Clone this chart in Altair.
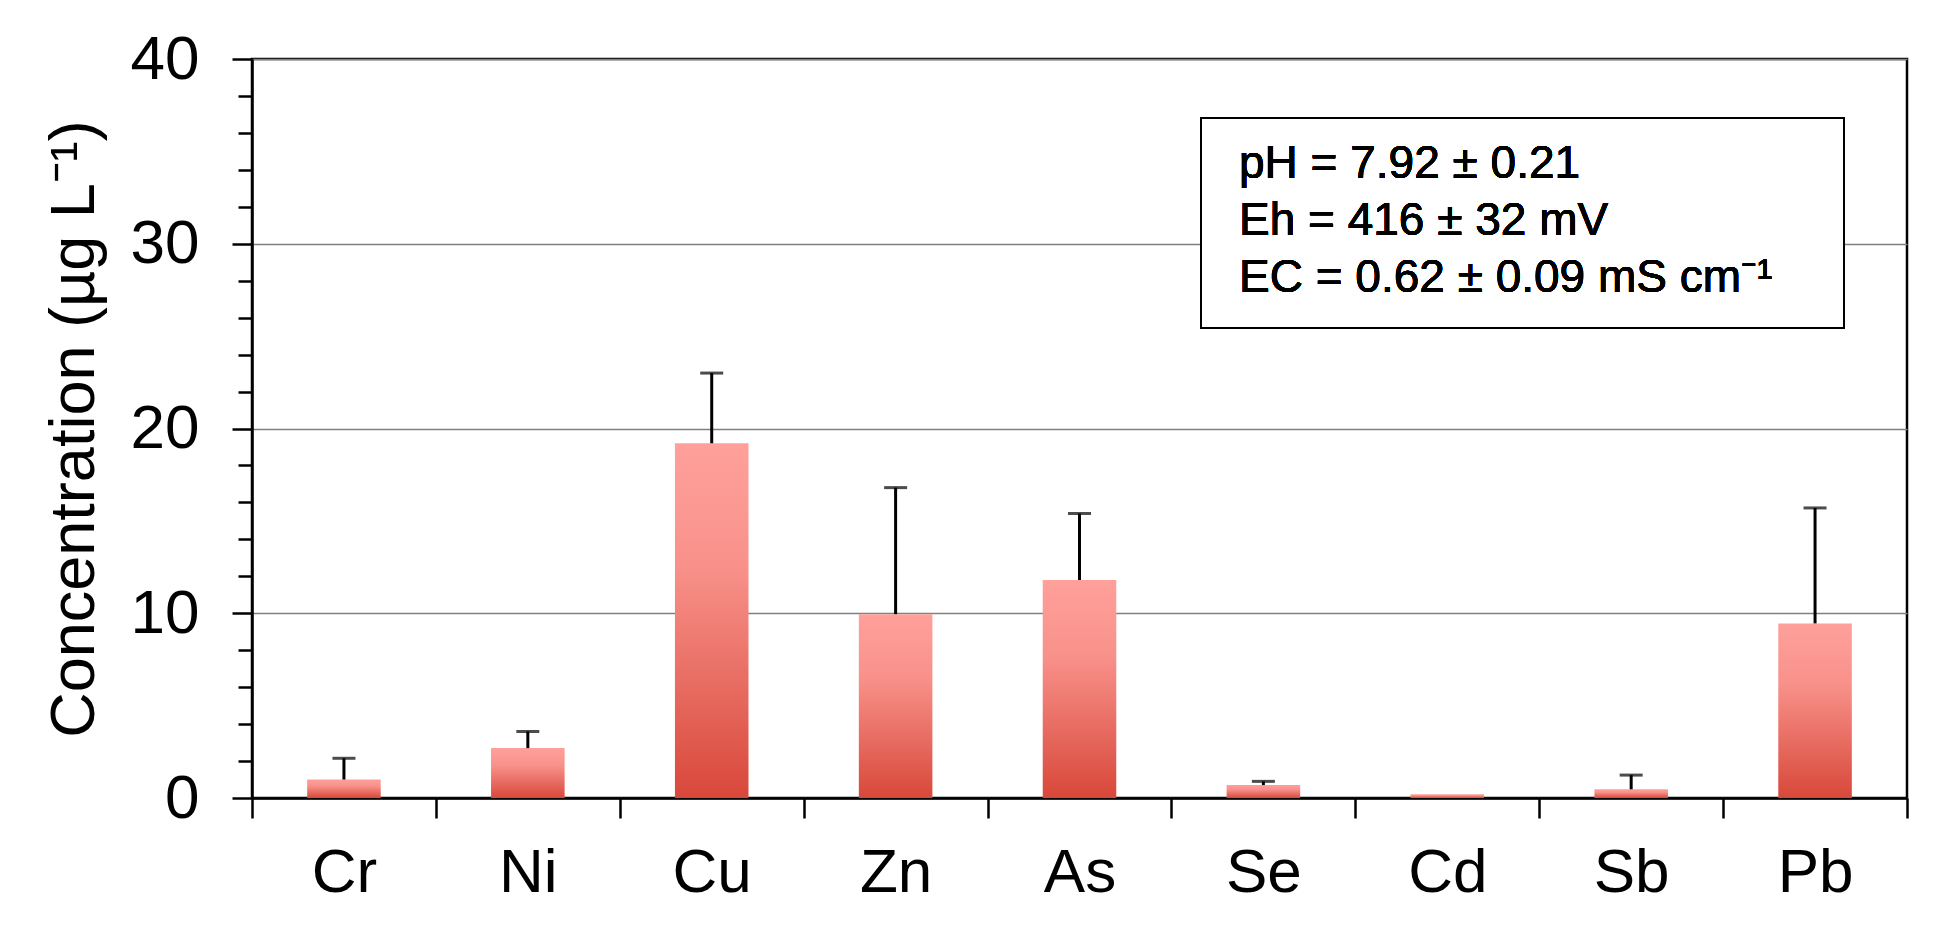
import altair as alt
import pandas as pd

# ---- data ----
elements = ["Cr", "Ni", "Cu", "Zn", "As", "Se", "Cd", "Sb", "Pb"]
means = [1.0, 2.7, 19.2, 9.95, 11.8, 0.7, 0.2, 0.47, 9.45]
errors = [1.15, 0.9, 3.8, 6.85, 3.6, 0.2, 0.0, 0.77, 6.25]
y_ticks = list(range(0, 41, 2))
info_lines = ["pH = 7.92 ± 0.21", "Eh = 416 ± 32 mV", "EC = 0.62 ± 0.09 mS cm⁻¹"]
y_title = "Concentration (µg L⁻¹)"

df = pd.DataFrame({"element": elements, "mean": means, "err": errors})
df["top"] = df["mean"] + df["err"]

W, H = 1655, 739
FONT = "Liberation Sans"
MAJOR = "datum.value % 10 === 0"

yscale = alt.Scale(domain=[0, 40], nice=False, zero=True)

x_enc = alt.X(
    "element:N",
    sort=elements,
    scale=alt.Scale(paddingInner=0, paddingOuter=0),
    axis=alt.Axis(
        title=None,
        tickBand="extent",
        labelAngle=0,
        labelFont=FONT,
        labelFontSize=62,
        labelColor="black",
        labelPadding=24,
        tickSize=20,
        tickWidth=2.5,
        tickColor="black",
        domainColor="black",
        domainWidth=2.5,
        grid=False,
    ),
)

y_axis = alt.Axis(
    values=y_ticks,
    tickCount=50,
    title=y_title,
    titleFont=FONT,
    titleFontSize=63,
    titleFontWeight="normal",
    titleColor="black",
    titlePadding=24,
    labelFont=FONT,
    labelFontSize=62,
    labelColor="black",
    labelPadding=33,
    labelOverlap=False,
    labelFlush=False,
    labelExpr="datum.value % 10 === 0 ? datum.label : ''",
    tickSize={"condition": {"test": MAJOR, "value": 20}, "value": 14},
    tickWidth=2.5,
    tickColor="black",
    domainColor="black",
    domainWidth=2.5,
    grid=True,
    gridColor="#808080",
    gridWidth=1.6,
    gridOpacity={"condition": {"test": MAJOR, "value": 1}, "value": 0},
)

gradient = alt.LinearGradient(
    gradient="linear",
    stops=[
        alt.GradientStop(color="#FFA09B", offset=0),
        alt.GradientStop(color="#F8918A", offset=0.35),
        alt.GradientStop(color="#D8483A", offset=1),
    ],
    x1=0, x2=0, y1=0, y2=1,
)

bars = alt.Chart(df).mark_bar(
    width=alt.RelativeBandSize(0.4), color=gradient
).encode(
    x=x_enc,
    y=alt.Y("mean:Q", scale=yscale, axis=y_axis),
)

err_base = alt.Chart(df).transform_filter("datum.err > 0")

err_rule = err_base.mark_rule(color="black", strokeWidth=3).encode(
    x=alt.X("element:N", sort=elements),
    y=alt.Y("mean:Q", scale=yscale),
    y2="top:Q",
)

err_cap = err_base.mark_tick(color="black", thickness=3, size=23).encode(
    x=alt.X("element:N", sort=elements),
    y=alt.Y("top:Q", scale=yscale),
)

box = alt.Chart(df).mark_rect(fill="white", stroke="black", strokeWidth=2).encode(
    x=alt.value(949), x2=alt.value(1592), y=alt.value(59), y2=alt.value(269)
)

info = alt.Chart(df).mark_text(
    text=info_lines,
    font=FONT,
    fontSize=46,
    lineHeight=57,
    align="left",
    baseline="middle",
    color="black",
).encode(x=alt.value(987), y=alt.value(105))

chart = (
    alt.layer(bars, err_rule, err_cap, box, info)
    .properties(
        width=W,
        height=H,
        autosize=alt.AutoSizeParams(type="none"),
        padding={"left": 244, "top": 51, "right": 20, "bottom": 120},
    )
    .configure_view(stroke="black", strokeWidth=2.5)
)

chart.save("out.html", embed_options={"renderer": "svg", "actions": False})
